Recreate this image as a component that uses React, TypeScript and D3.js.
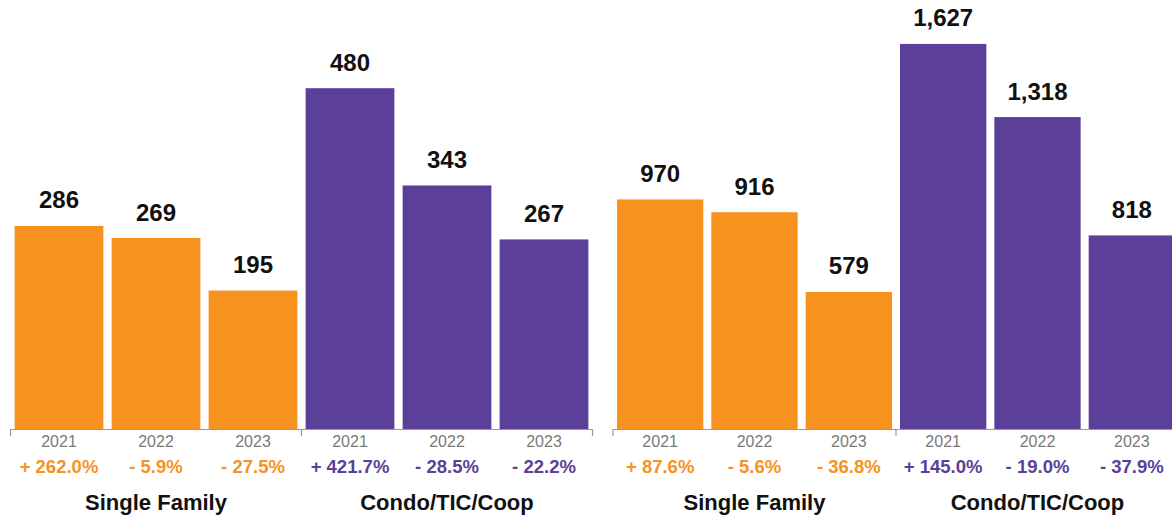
import { useRef, useEffect } from "react";
import { select, scaleBand, scaleLinear, format } from "d3";

const years = ["2021", "2022", "2023"];
const groups = ["Single Family", "Condo/TIC/Coop"];

const leftSingleFamily = [286, 269, 195];
const leftCondo = [480, 343, 267];
const leftChanges = ["+ 262.0%", "- 5.9%", "- 27.5%", "+ 421.7%", "- 28.5%", "- 22.2%"];

const rightSingleFamily = [970, 916, 579];
const rightCondo = [1627, 1318, 818];
const rightChanges = ["+ 87.6%", "- 5.6%", "- 36.8%", "+ 145.0%", "- 19.0%", "- 37.9%"];

const ORANGE = "#F7921F";
const PURPLE = "#5B3F99";
const FONT = "'Liberation Sans', Arial, Helvetica, sans-serif";

const W = 1172;
const H = 517;
const baseY = 429;

const App = () => {
  const svgRef = useRef(null);

  useEffect(() => {
    const svgEl = select(svgRef.current);
    svgEl.selectAll("*").remove();

    const drawPanel = (x0, x1, yMax, sf, condo, changes) => {
      const rows = [
        ...sf.map((v, i) => ({ key: `sf-${years[i]}`, year: years[i], value: v, color: ORANGE })),
        ...condo.map((v, i) => ({ key: `co-${years[i]}`, year: years[i], value: v, color: PURPLE })),
      ];

      const x = scaleBand()
        .domain(rows.map((d) => d.key))
        .range([x0, x1])
        .paddingInner(0.085)
        .paddingOuter(0.0425);

      const y = scaleLinear().domain([0, yMax]).range([baseY, 3]);

      const g = svgEl.append("g");

      // bars
      g.selectAll("rect.bar")
        .data(rows)
        .join("rect")
        .attr("class", "bar")
        .attr("x", (d) => x(d.key))
        .attr("width", x.bandwidth())
        .attr("y", (d) => y(d.value))
        .attr("height", (d) => baseY - y(d.value))
        .attr("fill", (d) => d.color);

      // value labels
      g.selectAll("text.val")
        .data(rows)
        .join("text")
        .attr("class", "val")
        .attr("x", (d) => x(d.key) + x.bandwidth() / 2)
        .attr("y", (d) => y(d.value) - 17.5)
        .attr("text-anchor", "middle")
        .attr("font-family", FONT)
        .attr("font-weight", "bold")
        .attr("font-size", 24)
        .attr("fill", "#111")
        .text((d) => format(",")(d.value));

      // axis line + group ticks
      const axisG = g.append("g").attr("stroke", "#999").attr("stroke-width", 1.2);
      const mid = x0 + (x1 - x0) / 2;
      axisG.append("line").attr("x1", x0).attr("x2", x1).attr("y1", baseY + 0.5).attr("y2", baseY + 0.5);
      [x0, mid, x1].forEach((t) => {
        axisG.append("line").attr("x1", t).attr("x2", t).attr("y1", baseY).attr("y2", baseY + 7);
      });

      // year labels
      g.selectAll("text.year")
        .data(rows)
        .join("text")
        .attr("class", "year")
        .attr("x", (d) => x(d.key) + x.bandwidth() / 2)
        .attr("y", 447)
        .attr("text-anchor", "middle")
        .attr("font-family", FONT)
        .attr("font-size", 16)
        .attr("fill", "#7a7a7a")
        .text((d) => d.year);

      // percent change labels
      g.selectAll("text.chg")
        .data(rows)
        .join("text")
        .attr("class", "chg")
        .attr("x", (d) => x(d.key) + x.bandwidth() / 2)
        .attr("y", 473)
        .attr("text-anchor", "middle")
        .attr("font-family", FONT)
        .attr("font-weight", "bold")
        .attr("font-size", 18.5)
        .attr("fill", (d) => d.color)
        .text((d, i) => changes[i]);

      // group labels
      g.selectAll("text.grp")
        .data(groups)
        .join("text")
        .attr("class", "grp")
        .attr("x", (d, i) => {
          const first = x(rows[i * 3].key);
          const last = x(rows[i * 3 + 2].key) + x.bandwidth();
          return (first + last) / 2;
        })
        .attr("y", 510)
        .attr("text-anchor", "middle")
        .attr("font-family", FONT)
        .attr("font-weight", "bold")
        .attr("font-size", 22)
        .attr("fill", "#111")
        .text((d) => d);
    };

    drawPanel(10.5, 592.5, 600, leftSingleFamily, leftCondo, leftChanges);
    drawPanel(613, 1179, 1800, rightSingleFamily, rightCondo, rightChanges);
  }, []);

  return (
    <svg
      ref={svgRef}
      width={W}
      height={H}
      style={{ position: "absolute", left: 0, top: 0, background: "#fff" }}
    ></svg>
  );
};

export default App;
